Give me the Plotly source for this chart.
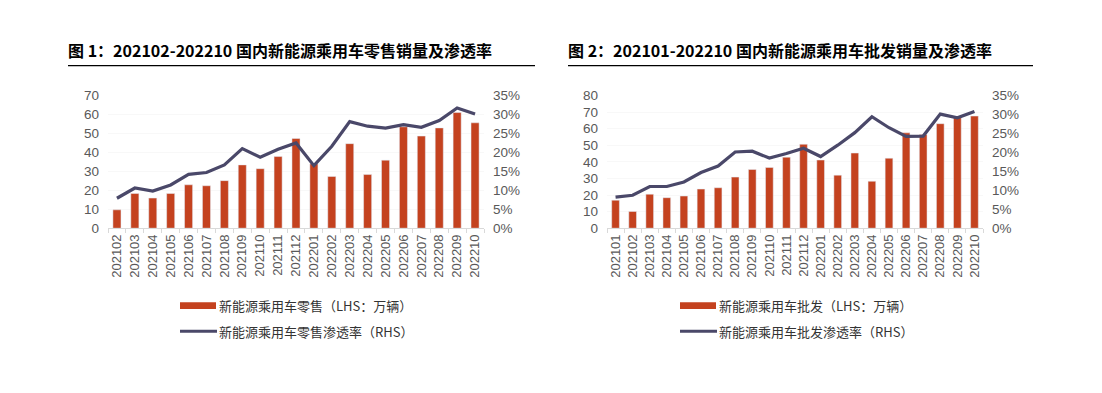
import plotly.graph_objects as go

months_retail = ["202102","202103","202104","202105","202106","202107","202108","202109","202110","202111","202112",
                 "202201","202202","202203","202204","202205","202206","202207","202208","202209","202210"]
retail_sales = [9.7,18.3,15.9,18.3,22.9,22.4,25.1,33.4,31.4,37.8,47.3,
                34.0,27.3,44.6,28.3,35.9,53.5,48.6,52.9,61.0,55.6]
retail_rate = [0.079,0.106,0.098,0.114,0.142,0.147,0.167,0.210,0.187,0.208,0.225,
               0.165,0.216,0.281,0.269,0.264,0.273,0.266,0.284,0.317,0.301]

months_whole = ["202101","202102","202103","202104","202105","202106","202107","202108","202109","202110","202111","202112",
                "202201","202202","202203","202204","202205","202206","202207","202208","202209","202210"]
whole_sales = [16.9,10.1,20.5,18.4,19.4,23.6,24.4,30.8,35.4,36.6,42.8,50.6,
               41.1,32.0,45.3,28.3,42.2,57.5,56.5,63.0,67.0,67.6]
whole_rate = [0.082,0.087,0.110,0.110,0.122,0.147,0.164,0.201,0.203,0.185,0.197,0.211,
              0.189,0.219,0.252,0.294,0.265,0.242,0.243,0.301,0.291,0.308]

titles = ["图 1：202102-202210 国内新能源乘用车零售销量及渗透率",
          "图 2：202101-202210 国内新能源乘用车批发销量及渗透率"]
legend_bar = ["新能源乘用车零售（LHS：万辆）", "新能源乘用车批发（LHS：万辆）"]
legend_line = ["新能源乘用车零售渗透率（RHS）", "新能源乘用车批发渗透率（RHS）"]

BAR = "#C4421F"
LINE = "#4A4869"
W, H = 1102, 393
TICKC = "#595959"
CJK = "Noto Sans CJK SC"
LAT = "Liberation Sans, Arial, sans-serif"


def px(x):
    return x / W


def py(y):
    return 1 - y / H


fig = go.Figure()

fig.add_trace(go.Bar(x=months_retail, y=retail_sales, marker_color=BAR, xaxis="x", yaxis="y", showlegend=False))
fig.add_trace(go.Scatter(x=months_retail, y=retail_rate, mode="lines", line=dict(color=LINE, width=3.2),
                         xaxis="x", yaxis="y2", showlegend=False))
fig.add_trace(go.Bar(x=months_whole, y=whole_sales, marker_color=BAR, xaxis="x2", yaxis="y3", showlegend=False))
fig.add_trace(go.Scatter(x=months_whole, y=whole_rate, mode="lines", line=dict(color=LINE, width=3.2),
                         xaxis="x2", yaxis="y4", showlegend=False))

ydom = [py(230), py(92)]
xd1 = [px(108), px(484)]
xd2 = [px(607), px(983)]

xcommon = dict(type="category", showgrid=False, showline=True, linecolor="#D9D9D9", linewidth=1,
               ticks="outside", tickson="boundaries", ticklen=4, tickcolor="#D9D9D9",
               tickangle=-90, tickfont=dict(family=LAT, size=13, color=TICKC), zeroline=False)
ycommon = dict(zeroline=False, showline=False, ticks="",
               tickfont=dict(family=LAT, size=13.5, color=TICKC), ticklabelstandoff=8)

fig.update_layout(
    width=W, height=H, margin=dict(l=0, r=0, t=0, b=0),
    paper_bgcolor="white", plot_bgcolor="white",
    bargap=0.55,
    xaxis=dict(domain=xd1, anchor="y", **xcommon),
    yaxis=dict(domain=ydom, anchor="x", range=[0, 70], dtick=10, showgrid=True, gridcolor="#F8F8F8", **ycommon),
    yaxis2=dict(overlaying="y", side="right", anchor="x", range=[0, 0.35], dtick=0.05, tickformat=".0%",
                showgrid=False, **ycommon),
    xaxis2=dict(domain=xd2, anchor="y3", **xcommon),
    yaxis3=dict(domain=ydom, anchor="x2", range=[0, 80], dtick=10, showgrid=True, gridcolor="#F8F8F8", **ycommon),
    yaxis4=dict(overlaying="y3", side="right", anchor="x2", range=[0, 0.35], dtick=0.05, tickformat=".0%",
                showgrid=False, **ycommon),
)

shapes = []
annotations = []
for i, (x0, x1) in enumerate([(68, 535), (568, 1033)]):
    annotations.append(dict(text=titles[i], x=px(x0 - 2), y=py(45), xref="paper", yref="paper",
                            xanchor="left", yanchor="middle", showarrow=False,
                            font=dict(family=CJK, size=16, color="#000000", weight="bold")))
    shapes.append(dict(type="line", xref="paper", yref="paper", x0=px(x0), x1=px(x1),
                       y0=py(61), y1=py(61), line=dict(color="#000000", width=1.2)))

for i, lx in enumerate([180, 680]):
    shapes.append(dict(type="rect", xref="paper", yref="paper", x0=px(lx), x1=px(lx + 36),
                       y0=py(314), y1=py(307), fillcolor=BAR, line=dict(width=0)))
    annotations.append(dict(text=legend_bar[i], x=px(lx + 37), y=py(310), xref="paper", yref="paper",
                            xanchor="left", yanchor="middle", showarrow=False,
                            font=dict(family=CJK, size=13, color="#333333")))
    shapes.append(dict(type="line", xref="paper", yref="paper", x0=px(lx), x1=px(lx + 37),
                       y0=py(337), y1=py(337), line=dict(color=LINE, width=3)))
    annotations.append(dict(text=legend_line[i], x=px(lx + 37), y=py(337), xref="paper", yref="paper",
                            xanchor="left", yanchor="middle", showarrow=False,
                            font=dict(family=CJK, size=13, color="#333333")))

fig.update_layout(shapes=shapes, annotations=annotations)
fig.write_html("out.html",
               config={"displayModeBar": False},
               post_script="document.documentElement.style.overflow='hidden';"
                           "document.body.style.margin='0';document.body.style.overflow='hidden';")
